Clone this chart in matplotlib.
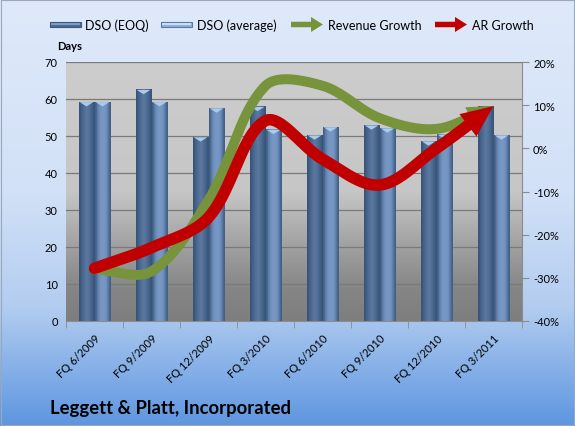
import numpy as np
import matplotlib
matplotlib.use("Agg")
import matplotlib.pyplot as plt
from matplotlib.patches import Rectangle, FancyArrow
from matplotlib.transforms import IdentityTransform
from matplotlib.colors import LinearSegmentedColormap
from matplotlib.ticker import FuncFormatter, FixedLocator

plt.rcParams['font.family'] = ['Lato', 'DejaVu Sans']
plt.rcParams['axes.unicode_minus'] = False

# data
quarters = ['FQ 6/2009', 'FQ 9/2009', 'FQ 12/2009', 'FQ 3/2010',
            'FQ 6/2010', 'FQ 9/2010', 'FQ 12/2010', 'FQ 3/2011']
dso_eoq = [59.3, 62.6, 49.8, 58.0, 50.3, 53.0, 48.7, 58.0]
dso_avg = [59.3, 59.3, 57.6, 51.8, 52.5, 52.2, 50.5, 50.3]
revenue_growth = [-0.28, -0.285, -0.12, 0.145, 0.145, 0.07, 0.045, 0.098]
ar_growth = [-0.278, -0.23, -0.16, 0.064, -0.025, -0.085, 0.0, 0.098]
series_names = ['DSO (EOQ)', 'DSO (average)', 'Revenue Growth', 'AR Growth']

GREEN = '#77933c'
RED = '#c00000'
EOQ_COL = '#4d6b93'
AVG_COL = '#7192bf'

W, H = 575, 427


def smooth_px(pts, n=40):
    # Excel style smoothing: bezier segments, tangents scaled by chord lengths
    out = []
    t = np.linspace(0, 1, n, endpoint=False)[:, None]
    m = len(pts)
    for i in range(m - 1):
        p0 = pts[i - 1] if i > 0 else pts[i]
        p1, p2 = pts[i], pts[i + 1]
        p3 = pts[i + 2] if i + 2 < m else pts[i + 1]
        d01 = np.hypot(*(p1 - p0))
        d12 = np.hypot(*(p2 - p1))
        d23 = np.hypot(*(p3 - p2))
        f1 = d12 / (d01 + d12) if d01 + d12 > 0 else 0.5
        f2 = d12 / (d12 + d23) if d12 + d23 > 0 else 0.5
        c1 = p1 + (p2 - p0) * f1 / 3
        c2 = p2 - (p3 - p1) * f2 / 3
        seg = ((1 - t) ** 3) * p1 + 3 * ((1 - t) ** 2) * t * c1 + 3 * (1 - t) * t ** 2 * c2 + t ** 3 * p2
        out.append(seg)
    out.append(pts[-1][None, :])
    return np.vstack(out)


fig = plt.figure(figsize=(W / 100, H / 100), dpi=100)

# figure background gradient
bg = fig.add_axes([0, 0, 1, 1], zorder=-10)
bg_cmap = LinearSegmentedColormap.from_list('bg', [(0, '#dfe9fa'), (0.45, '#d2e1f7'),
                                                   (0.72, '#b3cdf0'), (1.0, '#5e96e0')])
bg.imshow(np.linspace(0, 1, 256).reshape(-1, 1), aspect='auto', cmap=bg_cmap,
          extent=[0, 1, 1, 0])
bg.set_xlim(0, 1)
bg.set_ylim(1, 0)
bg.axis('off')
fig.patches.append(Rectangle((0.002, 0.002), 0.996, 0.996, transform=fig.transFigure,
                             fill=False, edgecolor='#9aa8bb', linewidth=0.8))

ax = fig.add_axes([66 / W, 1 - 322 / H, (522 - 66) / W, (322 - 63) / H])
x = np.arange(len(quarters))
ax.set_xlim(-0.5, len(quarters) - 0.5)
ax.set_ylim(0, 70)

# plot area gradient
pa_cmap = LinearSegmentedColormap.from_list('pa', [(0, '#7e7e7e'), (0.12, '#858585'),
                                                   (0.3, '#a3a3a3'), (0.5, '#c6c6c6'),
                                                   (1.0, '#cdcdcd')])
ax.imshow(np.linspace(0, 1, 256).reshape(-1, 1), aspect='auto', cmap=pa_cmap,
          extent=[-0.5, len(quarters) - 0.5, 0, 70], origin='lower', zorder=0)

for yv in range(10, 71, 10):
    ax.axhline(yv, color='#7a7a7a', linewidth=0.9, zorder=1)

w = 0.28
bar_grad = np.array([[0.0, 0.35, 0.6, 0.75, 0.8, 0.75, 0.6, 0.3, 0.0]])


def shaded_bars(xpos, heights, color):
    cm = LinearSegmentedColormap.from_list('b', ['#2f4a6e', color, '#9db7d8'])
    bars = ax.bar(xpos, heights, width=w, color=color, zorder=2, linewidth=0)
    for b in bars:
        x0, x1 = b.get_x(), b.get_x() + b.get_width()
        im = ax.imshow(bar_grad, aspect='auto', cmap=cm, vmin=-0.3, vmax=1.6,
                       extent=[x0, x1, 0, b.get_height()], zorder=3)
        im.set_clip_path(b)
        # light cap on top of the cylinder
        ax.fill([x0 + 0.02, x1 - 0.02, (x0 + x1) / 2],
                [b.get_height() - 0.15, b.get_height() - 0.15, b.get_height() - 1.3],
                color='#a9cbee', zorder=4, linewidth=0)
    return bars


shaded_bars(x - w / 2, dso_eoq, EOQ_COL)
shaded_bars(x + w / 2, dso_avg, AVG_COL)

ax.set_xticks(x)
ax.set_xticklabels(quarters, rotation=45, ha='right', rotation_mode='anchor', fontsize=8)
ax.xaxis.set_minor_locator(FixedLocator(np.arange(-0.5, len(quarters), 1.0)))
ax.tick_params(axis='x', which='major', length=0, pad=8)
ax.tick_params(axis='x', which='minor', length=5, color='#8c8c8c', direction='out')
ax.set_yticks(range(0, 71, 10))
ax.tick_params(axis='y', length=0, labelsize=8, pad=6)
for s in ['top', 'right', 'left']:
    ax.spines[s].set_visible(False)
ax.spines['bottom'].set_color('#8c8c8c')

ax2 = ax.twinx()
ax2.set_ylim(-0.4, 0.2)
ax2.set_yticks(np.arange(-0.4, 0.21, 0.1))
ax2.yaxis.set_major_formatter(FuncFormatter(lambda v, p: f'{round(v * 100):d}%'))
ax2.tick_params(axis='y', length=5, color='#8c8c8c', labelsize=8, pad=3)
for s in ['top', 'left', 'bottom']:
    ax2.spines[s].set_visible(False)
ax2.spines['right'].set_color('#8c8c8c')


def arrow_line(series, color, lw_px, head_len_px, head_w_px):
    disp = ax2.transData.transform(np.column_stack([x, series]))
    disp = smooth_px(disp)
    seg = np.hypot(np.diff(disp[:, 0]), np.diff(disp[:, 1]))
    back = np.concatenate([np.cumsum(seg[::-1])[::-1], [0]])
    keep = back >= head_len_px * 0.85
    curve = ax2.transData.inverted().transform(disp[keep])
    ax2.plot(curve[:, 0], curve[:, 1], color=color, linewidth=lw_px * 0.72,
             solid_capstyle='round', zorder=5)
    tip = disp[-1]
    base_idx = np.argmin(np.abs(back - head_len_px))
    d = tip - disp[base_idx]
    d = d / np.hypot(*d)
    base = tip - d * head_len_px
    nrm = np.array([-d[1], d[0]])
    pts = np.array([tip, base + nrm * head_w_px / 2, base - nrm * head_w_px / 2])
    pts = ax2.transData.inverted().transform(pts)
    ax2.fill(pts[:, 0], pts[:, 1], color=color, zorder=6, linewidth=0)


arrow_line(revenue_growth, GREEN, 10, 26, 22)
arrow_line(ar_growth, RED, 11.5, 32, 28)

fig.text(57 / W, 1 - 46 / H, 'Days', fontsize=8, fontweight='bold', ha='left', va='center')
fig.text(50 / W, 1 - 409 / H, 'Leggett & Platt, Incorporated', fontsize=13.3,
         fontweight='bold', ha='left', va='center')

# legend drawn by hand, in pixel coordinates
leg_y = H - 25.5
pix = IdentityTransform()


def bar_key(x0, face, edge, shine):
    fig.patches.append(Rectangle((x0, leg_y - 2.5), 31, 5, transform=pix, facecolor=face,
                                 edgecolor=edge, linewidth=0.8))
    fig.patches.append(Rectangle((x0 + 1, leg_y - 0.2), 29, 1.6, transform=pix,
                                 facecolor=shine, linewidth=0))


def arrow_key(x0, color):
    fig.patches.append(FancyArrow(x0, leg_y, 32, 0, width=5.5, head_width=15, head_length=12,
                                  length_includes_head=True, transform=pix, color=color,
                                  linewidth=0))


bar_key(50, EOQ_COL, '#3a5576', '#7f9cc2')
bar_key(161, '#8fb0d8', '#5a7aa3', '#c9def5')
arrow_key(291, GREEN)
arrow_key(435, RED)
for tx, name in zip([85, 197, 328, 472], series_names):
    fig.text(tx / W, leg_y / H, name, fontsize=9, ha='left', va='center')

fig.savefig('out.png', dpi=100)
